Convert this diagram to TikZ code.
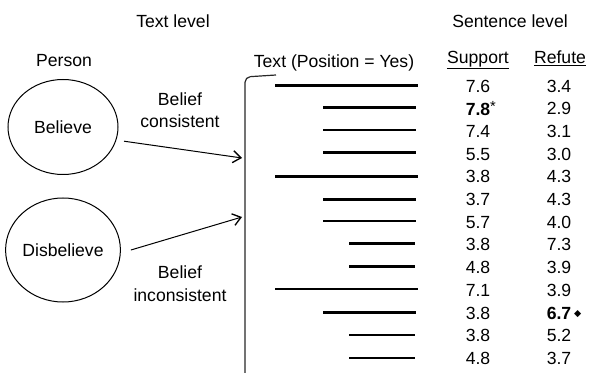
\documentclass[tikz,border=0pt]{standalone}
\usepackage{fontspec}
\setmainfont{Liberation Sans}
\newfontfamily\dejavu{DejaVu Sans}
\usepackage{tikz}
\usetikzlibrary{arrows.meta, calc, shapes.geometric}
\definecolor{ink}{RGB}{0,0,0}
\definecolor{rule}{RGB}{40,40,40}

\begin{document}
\begin{tikzpicture}[
  x=0.75pt, y=-0.75pt,
  font=\fontsize{13.2}{15}\selectfont,
  pers/.style={ellipse, draw=ink, line width=0.75pt, minimum width=82.5pt,
               inner sep=0pt},
  lbl/.style={anchor=base, inner sep=0pt, text=ink},
  hdr/.style={anchor=base, inner sep=0pt, text=ink},
  uln/.style={draw=ink, line width=0.75pt},
  val/.style={inner sep=0pt, text=ink},
  snt/.style={draw=ink, line width=1.8pt},
  brk/.style={draw=rule, line width=0.9pt, rounded corners=4pt},
  arr/.style={draw=ink, line width=0.75pt,
              -{Straight Barb[length=6pt, width=9pt, line width=1pt]}}]
  \useasboundingbox (0,0) rectangle (591,373);
  \node[lbl] (tlev) at (173,28) {Text level};
  \node[lbl] (slev) at (510,28) {Sentence level};
  \node[lbl] (pers) at (64,67) {Person};
  \node[lbl] (txt) at (334,68) {Text (Position = Yes)};
  \node[pers, minimum height=71.25pt] (bel) at (63,127) {Believe};
  \node[pers, minimum height=78pt] (dis) at (63,250) {Disbelieve};
  \node[lbl] (bc1) at (180,106) {Belief};
  \node[lbl] (bc2) at (180,128) {consistent};
  \node[lbl] (bi1) at (180,279) {Belief};
  \node[lbl] (bi2) at (180,301) {inconsistent};
  \draw[brk] (276,75) -- (245,77) -- (245,375);
  \coordinate (tipA) at (242,158);
  \coordinate (tipB) at (242,217);
  \draw[arr] ([xshift=6pt]bel.-15) -- (tipA);
  \draw[arr] ([xshift=7.5pt]dis.east) -- (tipB);
  \node[hdr] (hsup) at (478,64) {Support};
  \node[hdr] (href) at (560,64) {Refute};
  \draw[uln] ([yshift=-0.6pt]hsup.south west) -- ([yshift=-0.6pt]hsup.south east);
  \draw[uln] ([yshift=-0.6pt]href.south west) -- ([yshift=-0.6pt]href.south east);
  \draw[snt] (275,85.7) -- (418,85.7);
  \node[val] (s1) at (478,86.0) {7.6};
  \node[val] (r1) at (559,86.0) {3.4};
  \draw[snt] (323,107.5) -- (416,107.5);
  \node[val] (s2) at (478,108.7) {\textbf{7.8}\rlap{\fontsize{11}{12}\selectfont\raisebox{2.8pt}{*}}};
  \node[val] (r2) at (559,108.7) {2.9};
  \draw[snt] (323,130.0) -- (416,130.0);
  \node[val] (s3) at (478,131.4) {7.4};
  \node[val] (r3) at (559,131.4) {3.1};
  \draw[snt] (323,152.5) -- (416,152.5);
  \node[val] (s4) at (478,154.1) {5.5};
  \node[val] (r4) at (559,154.1) {3.0};
  \draw[snt] (275,176.7) -- (418,176.7);
  \node[val] (s5) at (478,176.8) {3.8};
  \node[val] (r5) at (559,176.8) {4.3};
  \draw[snt] (323,199.5) -- (416,199.5);
  \node[val] (s6) at (478,199.5) {3.7};
  \node[val] (r6) at (559,199.5) {4.3};
  \draw[snt] (323,221.0) -- (416,221.0);
  \node[val] (s7) at (478,222.2) {5.7};
  \node[val] (r7) at (559,222.2) {4.0};
  \draw[snt] (349,243.5) -- (415,243.5);
  \node[val] (s8) at (478,244.9) {3.8};
  \node[val] (r8) at (559,244.9) {7.3};
  \draw[snt] (349,266.5) -- (415,266.5);
  \node[val] (s9) at (478,267.6) {4.8};
  \node[val] (r9) at (559,267.6) {3.9};
  \draw[snt] (275,289.3) -- (418,289.3);
  \node[val] (s10) at (478,290.3) {7.1};
  \node[val] (r10) at (559,290.3) {3.9};
  \draw[snt] (323,312.5) -- (416,312.5);
  \node[val] (s11) at (478,313.0) {3.8};
  \node[val] (r11) at (559,313.0) {\textbf{6.7}\rlap{\,\raisebox{2.2pt}{\dejavu\fontsize{7}{8}\selectfont ◆}}};
  \draw[snt] (349,335.0) -- (415,335.0);
  \node[val] (s12) at (478,335.7) {3.8};
  \node[val] (r12) at (559,335.7) {5.2};
  \draw[snt] (349,357.8) -- (415,357.8);
  \node[val] (s13) at (478,358.4) {4.8};
  \node[val] (r13) at (559,358.4) {3.7};
\end{tikzpicture}
\end{document}
